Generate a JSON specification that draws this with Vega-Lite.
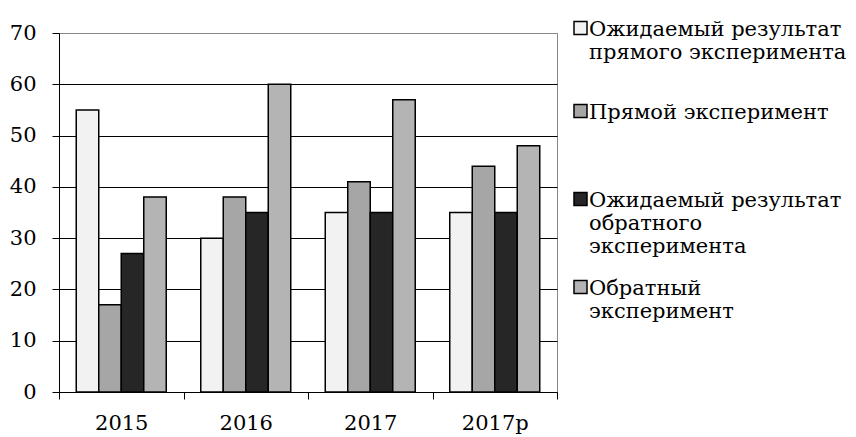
{
  "$schema": "https://vega.github.io/schema/vega-lite/v6.json",
  "width": 498,
  "height": 359,
  "autosize": {"type": "none"},
  "padding": {"left": 59, "top": 33, "right": 299, "bottom": 45},
  "background": "white",
  "config": {
    "font": "DejaVu Serif",
    "view": {"stroke": "#888888", "strokeWidth": 1},
    "legend": {
      "title": null,
      "orient": "none",
      "padding": 0,
      "symbolType": "M-1,-2.154H1V-0.154H-1Z",
      "symbolSize": 169,
      "symbolStrokeColor": "black",
      "symbolStrokeWidth": 1.5,
      "symbolOpacity": 1,
      "labelFont": "DejaVu Serif",
      "labelFontSize": 21,
      "labelColor": "black",
      "labelLimit": 400,
      "labelOffset": -2,
      "labelBaseline": "alphabetic",
      "labelLineHeight": 30
    }
  },
  "data": {
    "values": [
      {"year": "2015", "series": "Ожидаемый результат прямого эксперимента", "value": 55},
      {"year": "2015", "series": "Прямой эксперимент", "value": 17},
      {"year": "2015", "series": "Ожидаемый результат обратного эксперимента", "value": 27},
      {"year": "2015", "series": "Обратный эксперимент", "value": 38},
      {"year": "2016", "series": "Ожидаемый результат прямого эксперимента", "value": 30},
      {"year": "2016", "series": "Прямой эксперимент", "value": 38},
      {"year": "2016", "series": "Ожидаемый результат обратного эксперимента", "value": 35},
      {"year": "2016", "series": "Обратный эксперимент", "value": 60},
      {"year": "2017", "series": "Ожидаемый результат прямого эксперимента", "value": 35},
      {"year": "2017", "series": "Прямой эксперимент", "value": 41},
      {"year": "2017", "series": "Ожидаемый результат обратного эксперимента", "value": 35},
      {"year": "2017", "series": "Обратный эксперимент", "value": 57},
      {"year": "2017р", "series": "Ожидаемый результат прямого эксперимента", "value": 35},
      {"year": "2017р", "series": "Прямой эксперимент", "value": 44},
      {"year": "2017р", "series": "Ожидаемый результат обратного эксперимента", "value": 35},
      {"year": "2017р", "series": "Обратный эксперимент", "value": 48}
    ]
  },
  "encoding": {
    "x": {
      "field": "year",
      "type": "nominal",
      "sort": ["2015", "2016", "2017", "2017р"],
      "scale": {"domain": ["2015", "2016", "2017", "2017р"], "paddingInner": 0, "paddingOuter": 0},
      "axis": {
        "title": null,
        "labelAngle": 0,
        "labelFont": "DejaVu Serif",
        "labelFontSize": 21,
        "labelColor": "black",
        "labelPadding": 13,
        "tickBand": "extent",
        "tickSize": 7,
        "tickColor": "black",
        "domainColor": "black",
        "grid": false
      }
    },
    "xOffset": {
      "field": "series",
      "type": "nominal",
      "scale": {
        "domain": ["Ожидаемый результат прямого эксперимента", "Прямой эксперимент", "Ожидаемый результат обратного эксперимента", "Обратный эксперимент"],
        "paddingInner": 0,
        "paddingOuter": 0.7667
      }
    },
    "y": {
      "field": "value",
      "type": "quantitative",
      "scale": {"domain": [0, 70]},
      "axis": {
        "title": null,
        "values": [0, 10, 20, 30, 40, 50, 60, 70],
        "labelFont": "DejaVu Serif",
        "labelFontSize": 21,
        "labelColor": "black",
        "labelPadding": 16,
        "tickSize": 7,
        "tickColor": "black",
        "domainColor": "black",
        "gridColor": {"condition": {"test": "datum.value === 70", "value": "#888888"}, "value": "black"},
        "gridWidth": 1
      }
    }
  },
  "layer": [
    {
      "transform": [{"filter": "datum.series == 'Ожидаемый результат прямого эксперимента'"}],
      "mark": {"type": "bar", "stroke": "black", "strokeWidth": 1.5},
      "encoding": {
        "color": {
          "field": "series",
          "type": "nominal",
          "scale": {"domain": ["Ожидаемый результат прямого эксперимента"], "range": ["#f2f2f2"]},
          "legend": {"legendX": 511, "legendY": -8, "labelExpr": "['Ожидаемый результат', 'прямого эксперимента']"}
        }
      }
    },
    {
      "transform": [{"filter": "datum.series == 'Прямой эксперимент'"}],
      "mark": {"type": "bar", "stroke": "black", "strokeWidth": 1.5},
      "encoding": {
        "color": {
          "field": "series",
          "type": "nominal",
          "scale": {"domain": ["Прямой эксперимент"], "range": ["#a6a6a6"]},
          "legend": {"legendX": 511, "legendY": 75}
        }
      }
    },
    {
      "transform": [{"filter": "datum.series == 'Ожидаемый результат обратного эксперимента'"}],
      "mark": {"type": "bar", "stroke": "black", "strokeWidth": 1.5},
      "encoding": {
        "color": {
          "field": "series",
          "type": "nominal",
          "scale": {"domain": ["Ожидаемый результат обратного эксперимента"], "range": ["#262626"]},
          "legend": {"legendX": 511, "legendY": 163, "labelExpr": "['Ожидаемый результат', 'обратного', 'эксперимента']"}
        }
      }
    },
    {
      "transform": [{"filter": "datum.series == 'Обратный эксперимент'"}],
      "mark": {"type": "bar", "stroke": "black", "strokeWidth": 1.5},
      "encoding": {
        "color": {
          "field": "series",
          "type": "nominal",
          "scale": {"domain": ["Обратный эксперимент"], "range": ["#b4b4b4"]},
          "legend": {"legendX": 511, "legendY": 251, "labelExpr": "['Обратный', 'эксперимент']"}
        }
      }
    }
  ],
  "resolve": {"scale": {"color": "independent"}, "legend": {"color": "independent"}}
}
